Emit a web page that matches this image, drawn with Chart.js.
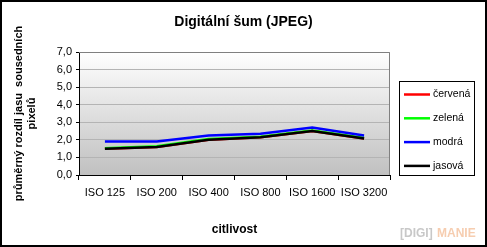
<!DOCTYPE html>
<html>
<head>
<meta charset="utf-8">
<script src="https://cdn.jsdelivr.net/npm/chart.js@4"></script>
<style>
  body { margin: 0; background: #fff; }
  canvas { display: block; }
</style>
</head>
<body>
<canvas id="chart" width="487" height="247"></canvas>
<script>
const categories = ["ISO 125", "ISO 200", "ISO 400", "ISO 800", "ISO 1600", "ISO 3200"];
const seriesNames = ["červená", "zelená", "modrá", "jasová"];
const seriesColors = ["#ff0000", "#00ff00", "#0000ff", "#000000"];
const cervena = [1.5, 1.6, 2.0, 2.15, 2.5, 2.07];
const zelena = [1.52, 1.63, 2.05, 2.18, 2.53, 2.1];
const modra = [1.9, 1.9, 2.25, 2.35, 2.7, 2.25];
const jasova = [1.5, 1.6, 2.0, 2.15, 2.5, 2.08];
const yTicks = [0, 1, 2, 3, 4, 5, 6, 7];

const FONT = "'Liberation Sans', Arial, sans-serif";
Chart.defaults.font.family = FONT;
Chart.defaults.color = "#000";

// plot background, frame, outer border, legend box and logo
const decor = {
  id: "decor",
  beforeDraw(chart) {
    const {ctx, chartArea: a} = chart;
    const g = ctx.createLinearGradient(0, a.top, 0, a.bottom);
    g.addColorStop(0, "#ffffff");
    g.addColorStop(1, "#c0c0c0");
    ctx.save();
    ctx.fillStyle = g;
    ctx.fillRect(a.left, a.top, a.right - a.left, a.bottom - a.top);
    ctx.restore();
  },
  afterDraw(chart) {
    const {ctx, chartArea: a} = chart;
    ctx.save();
    // top and right frame of plot
    ctx.strokeStyle = "#808080";
    ctx.lineWidth = 1;
    ctx.beginPath();
    ctx.moveTo(a.left, a.top + 0.5);
    ctx.lineTo(a.right - 0.5, a.top + 0.5);
    ctx.lineTo(a.right - 0.5, a.bottom);
    ctx.stroke();

    // outer border
    ctx.strokeStyle = "#000";
    ctx.lineWidth = 2;
    ctx.strokeRect(1, 1, 485, 245);

    // legend
    ctx.lineWidth = 1;
    ctx.strokeRect(399.5, 81.5, 75, 94);
    ctx.font = "10.5px " + FONT;
    ctx.textBaseline = "middle";
    ctx.textAlign = "left";
    seriesNames.forEach((name, i) => {
      const y = 94.5 + i * 23.8;
      ctx.strokeStyle = seriesColors[i];
      ctx.lineWidth = 2.5;
      ctx.beginPath();
      ctx.moveTo(404, y);
      ctx.lineTo(430, y);
      ctx.stroke();
      ctx.fillStyle = "#000";
      ctx.fillText(name, 433, y);
    });

    // logo
    ctx.font = "bold 12px " + FONT;
    ctx.fillStyle = "#c8c8c8";
    ctx.fillText("[DIGI]", 400, 234);
    ctx.fillStyle = "#f6cdb0";
    ctx.fillText("MANIE", 437, 234);
    ctx.restore();
  }
};

new Chart(document.getElementById("chart"), {
  type: "line",
  data: {
    labels: categories,
    datasets: [
      {label: seriesNames[0], data: cervena, borderColor: seriesColors[0], order: 3},
      {label: seriesNames[1], data: zelena, borderColor: seriesColors[1], order: 2},
      {label: seriesNames[2], data: modra, borderColor: seriesColors[2], order: 1},
      {label: seriesNames[3], data: jasova, borderColor: seriesColors[3], order: 0}
    ].map(d => Object.assign(d, {borderWidth: 2.5, pointRadius: 0, tension: 0, fill: false}))
  },
  options: {
    responsive: false,
    animation: false,
    layout: {padding: 0},
    plugins: {
      legend: {display: false},
      tooltip: {enabled: false},
      title: {
        display: true,
        text: "Digitální šum (JPEG)",
        font: {size: 14, weight: "bold"},
        color: "#000",
        padding: {top: 13.6, bottom: 21.6}
      }
    },
    scales: {
      x: {
        offset: true,
        grid: {offset: true, drawOnChartArea: false, drawTicks: true, tickLength: 5, color: "#000"},
        border: {color: "#000", width: 1},
        ticks: {font: {size: 11}, padding: 6, maxRotation: 0, autoSkip: false},
        title: {display: true, text: "citlivost", font: {size: 12, weight: "bold"}, padding: {top: 0, bottom: 10}},
        afterFit(s) { s.height = 72; }
      },
      y: {
        min: 0,
        max: 7,
        afterBuildTicks(s) { s.ticks = yTicks.map(v => ({value: v})); },
        grid: {color: "#b4b4b4", drawTicks: true, tickLength: 3, tickColor: "#000"},
        border: {color: "#000", width: 1},
        ticks: {font: {size: 11}, padding: 4, callback: v => v.toFixed(1).replace(".", ",")},
        title: {
          display: true,
          text: ["průměrný rozdíl jasu  sousedních", "pixelů"],
          font: {size: 11, weight: "bold"},
          padding: {top: 12.4, bottom: 0}
        },
        afterFit(s) { s.width = 79; }
      },
      // empty right-hand axis that reserves room for the legend box
      side: {
        position: "right",
        display: true,
        grid: {display: false},
        border: {display: false},
        ticks: {display: false},
        afterFit(s) { s.width = 97; }
      }
    }
  },
  plugins: [decor]
});
</script>
</body>
</html>
